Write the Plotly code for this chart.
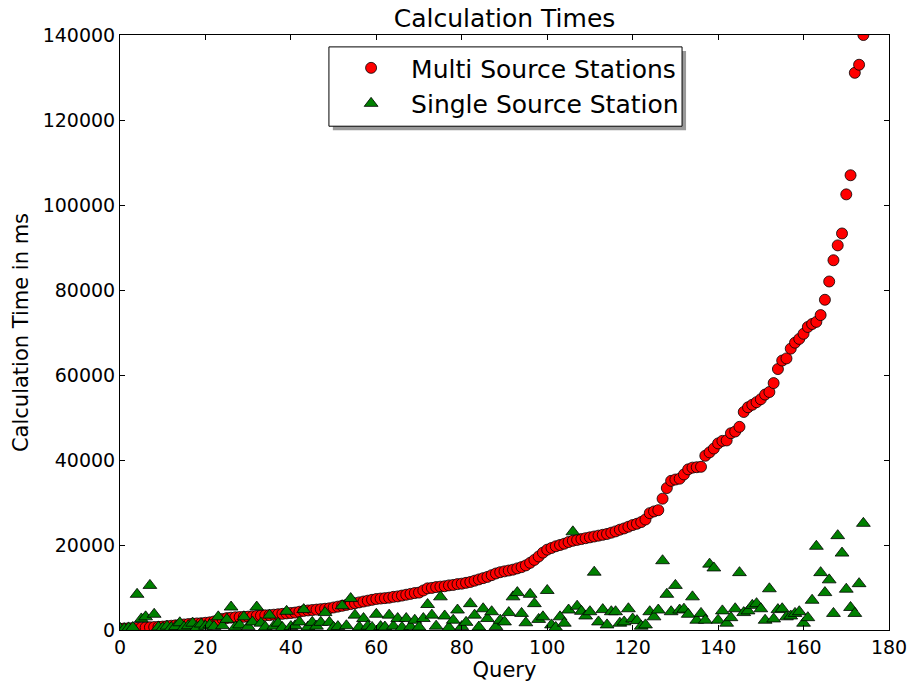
import plotly.graph_objects as go

query = list(range(175))

multi_source = [
    300, 350, 400, 450, 500, 550, 600, 650, 700, 750,
    800, 900, 1000, 1100, 1200, 1300, 1400, 1500, 1550, 1600,
    1700, 1800, 2000, 2300, 2600, 2800, 2900, 3000, 3050, 3100,
    3150, 3200, 3300, 3400, 3450, 3500, 3600, 3700, 3800, 3900,
    4000, 4100, 4300, 4500, 4600, 4700, 4800, 4900, 5000, 5100,
    5300, 5500, 5700, 5900, 6100, 6300, 6500, 6700, 6900, 7100,
    7300, 7400, 7500, 7600, 7800, 7900, 8100, 8300, 8500, 8700,
    8800, 9300, 9800, 9900, 10100, 10200, 10300, 10500, 10600, 10800,
    10900, 11100, 11300, 11600, 11900, 12200, 12500, 12900, 13300, 13600,
    13800, 14000, 14200, 14500, 14800, 15200, 15800, 16500, 17300, 18200,
    18900, 19300, 19700, 20000, 20300, 20700, 21000, 21200, 21400, 21600,
    21800, 22000, 22200, 22400, 22600, 22900, 23200, 23600, 23900, 24300,
    24700, 25000, 25400, 26000, 27500, 27900, 28200, 30900, 33400, 35100,
    35400, 35600, 36600, 37800, 38200, 38300, 38400, 41000, 41800, 42700,
    43900, 44500, 44600, 46300, 46700, 47800, 51300, 52400, 53000, 53600,
    54300, 55400, 56000, 58100, 61400, 63400, 63900, 66200, 67600, 68500,
    69700, 71300, 72000, 72500, 74100, 77700, 82000, 87000, 90500, 93300,
    102500, 107000, 131100, 133000, 140000,
]

single_source = [
    400, 300, 500, 600, 8400, 2600, 3100, 10500, 3700, 700,
    500, 900, 600, 800, 1700, 700, 1000, 1600, 600, 1400,
    900, 1200, 800, 3100, 1000, 2500, 5400, 700, 1200, 3100,
    800, 1900, 5400, 1600, 700, 3500, 900, 1600, 600, 4400,
    800, 1000, 1900, 4800, 700, 1800, 900, 1800, 4100, 1800,
    600, 800, 5700, 1000, 7400, 3500, 700, 2700, 900, 600,
    3700, 800, 700, 3500, 900, 2700, 600, 2700, 800, 2300,
    700, 2700, 6000, 3500, 900, 7800, 3300, 600, 2300, 4700,
    800, 1800, 6200, 3500, 700, 5000, 2700, 4300, 800, 2300,
    1900, 4100, 7800, 8800, 3900, 1700, 8400, 6200, 2500, 3100,
    9300, 1200, 600, 3100, 1600, 4700, 23100, 5600, 4400, 3300,
    4300, 13600, 1900, 4800, 1200, 4300, 4300, 1600, 1900, 5000,
    2600, 2200, 900, 1200, 4300, 3100, 4700, 16300, 8400, 4300,
    10500, 4700, 4900, 3700, 7800, 2300, 3900, 2300, 15500, 14600,
    2300, 4500, 1600, 2900, 5000, 13500, 4100, 4500, 5800, 6200,
    5000, 2300, 9700, 2600, 4800, 5000, 3100, 3300, 3900, 4300,
    1600, 2900, 7000, 19700, 13500, 8800, 11800, 3900, 22200, 18100,
    9600, 5300, 3900, 10900, 25100,
]

x_ticks = [0, 20, 40, 60, 80, 100, 120, 140, 160, 180]
y_ticks = [0, 20000, 40000, 60000, 80000, 100000, 120000, 140000]

FONT = "DejaVu Sans"

fig = go.Figure()
fig.add_trace(go.Scatter(
    x=query, y=multi_source, mode="markers", name="Multi Source Stations",
    marker=dict(symbol="circle", size=11, color="#ff0000",
                line=dict(color="black", width=0.8)),
))
fig.add_trace(go.Scatter(
    x=query, y=single_source, mode="markers", name="Single Source Station",
    marker=dict(symbol="triangle-up", size=12, color="#008000",
                line=dict(color="black", width=0.8)),
))

axis_common = dict(
    showline=True, linecolor="black", linewidth=1, mirror="allticks",
    ticks="inside", ticklen=5, tickcolor="black", tickwidth=1,
    showgrid=False, zeroline=False,
    tickfont=dict(family=FONT, size=19, color="black"),
)

# legend frame with drop shadow (legend itself is drawn transparent on top)
fig.add_shape(type="rect", xref="paper", yref="paper",
              x0=0.2768, x1=0.7361, y0=0.84, y1=0.9733,
              fillcolor="#999999", line=dict(width=0), layer="above")
fig.add_shape(type="rect", xref="paper", yref="paper",
              x0=0.2717, x1=0.7309, y0=0.8467, y1=0.98,
              fillcolor="white", line=dict(color="black", width=1), layer="above")

fig.update_layout(
    width=919, height=688,
    margin=dict(l=120, r=26, t=35, b=53),
    paper_bgcolor="white", plot_bgcolor="white",
    font=dict(family=FONT, color="black"),
    title=dict(text="Calculation Times", x=0.5, xanchor="center",
               xref="paper", y=0.974, yanchor="middle",
               font=dict(family=FONT, size=25, color="black")),
    xaxis=dict(range=[0, 180], tickvals=x_ticks,
               title=dict(text="Query", font=dict(family=FONT, size=21), standoff=4),
               **axis_common),
    yaxis=dict(range=[0, 140000], tickvals=y_ticks, tickformat="d",
               title=dict(text="Calculation Time in ms", font=dict(family=FONT, size=21), standoff=8),
               **axis_common),
    legend=dict(x=0.2745, y=0.983, xanchor="left", yanchor="top",
                bgcolor="rgba(0,0,0,0)", borderwidth=0,
                font=dict(family=FONT, size=25, color="black"),
                itemwidth=70, tracegroupgap=0),
    showlegend=True,
)

fig.write_html("out.html")
